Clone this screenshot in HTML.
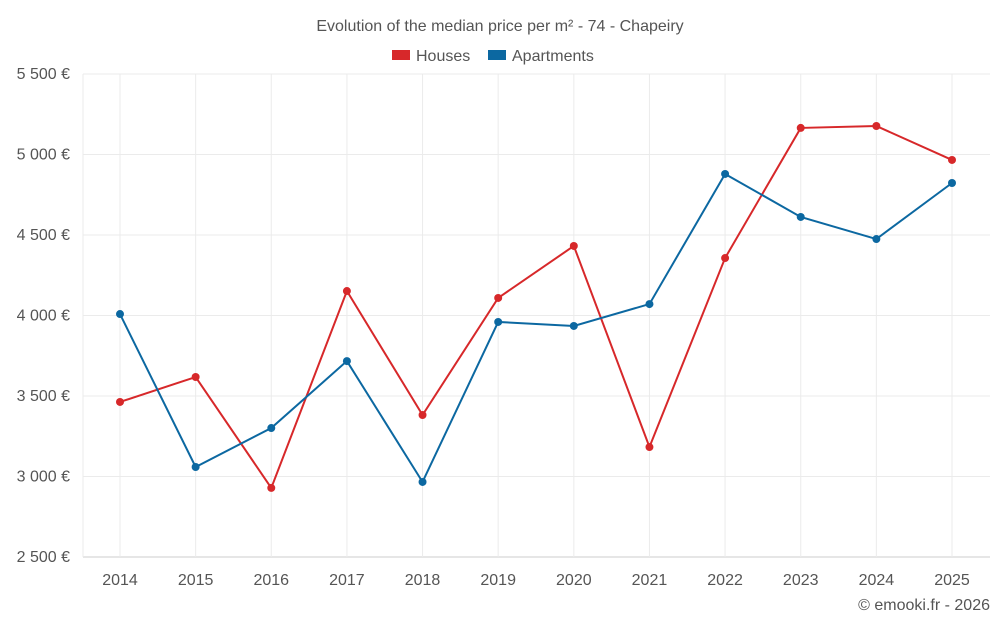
<!DOCTYPE html>
<html><head><meta charset="utf-8"><style>
body{margin:0;background:#fff;font-family:"Liberation Sans",Roboto,sans-serif}
svg text{font-family:"Liberation Sans",sans-serif;fill:#555}
</style></head><body>
<svg id="c" width="1000" height="625">
<text x="500" y="31" text-anchor="middle" font-size="16">Evolution of the median price per m² - 74 - Chapeiry</text>
<g>
<rect x="392" y="50" width="18" height="10" fill="#d7282a"/>
<text x="416" y="61" font-size="16">Houses</text>
<rect x="488" y="50" width="18" height="10" fill="#0c68a1"/>
<text x="512" y="61" font-size="16">Apartments</text>
</g>
<g id="grid"></g><g id="axes"></g><g id="series"></g>
<text x="990" y="610" text-anchor="end" font-size="16">© emooki.fr - 2026</text>
</svg>
<script>
const years=[2014,2015,2016,2017,2018,2019,2020,2021,2022,2023,2024,2025];
const houses=[3463,3618,2929,4152,3382,4109,4432,3183,4357,5165,5177,4966];
const apartments=[4009,3059,3301,3717,2966,3960,3935,4071,4879,4612,4475,4823];
const yTicks=[2500,3000,3500,4000,4500,5000,5500];
const yTickLabels=["2 500 €","3 000 €","3 500 €","4 000 €","4 500 €","5 000 €","5 500 €"];
const L=83,R=990,T=74,B=557;
const x=i=>120+i*(952-120)/(years.length-1);
const y=v=>B-(v-2500)/3000*(B-T);
const ns="http://www.w3.org/2000/svg";
function mk(t,a,p){const e=document.createElementNS(ns,t);for(const k in a)e.setAttribute(k,a[k]);p.appendChild(e);return e;}
const g=document.getElementById('grid'),ax=document.getElementById('axes'),s=document.getElementById('series');
yTicks.forEach((v,i)=>{
 const l=mk('line',{x1:L,x2:R,y1:y(v),y2:y(v),stroke:i==0?'#ccc':'#ebebeb'},g);
 
 
 const t=mk('text',{x:70,y:y(v)+5,'text-anchor':'end','font-size':16},ax);t.textContent=yTickLabels[i];
 
 
});
mk('line',{x1:L,x2:L,y1:T,y2:B,stroke:'#ebebeb'},g);
years.forEach((yr,i)=>{
 const l=mk('line',{x1:x(i),x2:x(i),y1:T,y2:B,stroke:'#ebebeb'},g);
 
 
 const t=mk('text',{x:x(i),y:585,'text-anchor':'middle','font-size':16},ax);t.textContent=yr;
 
 
});
function draw(data,color,name){
 const p=mk('polyline',{points:data.map((v,i)=>x(i)+','+y(v)).join(' '),fill:'none',stroke:color,'stroke-width':2},s);
 
 
 data.forEach((v,i)=>{const c=mk('circle',{cx:x(i),cy:y(v),r:4,fill:color},s);
 
 });
}
draw(houses,'#d7282a','houses');
draw(apartments,'#0c68a1','apartments');
</script>
</body></html>
